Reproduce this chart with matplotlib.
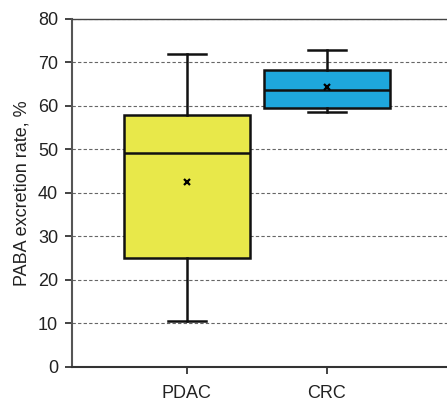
import matplotlib
matplotlib.use('Agg')
import matplotlib.pyplot as plt

plt.rcParams['font.family'] = ['Liberation Sans', 'DejaVu Sans']

groups = ['PDAC', 'CRC']
whisker_low = [10.6, 58.6]
q1 = [25.0, 59.5]
median = [49.2, 63.7]
q3 = [57.9, 68.3]
whisker_high = [72.0, 72.9]
means = [42.5, 64.4]
colors = ['#E8E84A', '#1EA7DD']

stats = []
for i, g in enumerate(groups):
    stats.append({'label': g, 'whislo': whisker_low[i], 'q1': q1[i], 'med': median[i],
                  'q3': q3[i], 'whishi': whisker_high[i], 'mean': means[i], 'fliers': []})

fig = plt.figure(figsize=(4.47, 4.01), dpi=100)
ax = fig.add_axes([0.161, 0.085, 0.839, 0.868])

ax.yaxis.grid(True, linestyle=(0, (3, 2)), color='#666666', linewidth=0.8)
ax.set_axisbelow(True)

bp = ax.bxp(stats, positions=[1, 2], widths=0.9, showmeans=True, patch_artist=True,
            capwidths=0.27,
            boxprops=dict(linewidth=1.8, edgecolor='#111111'),
            medianprops=dict(color='#111111', linewidth=1.8),
            whiskerprops=dict(color='#111111', linewidth=1.8),
            capprops=dict(color='#111111', linewidth=1.8),
            meanprops=dict(marker='x', markeredgecolor='black', markersize=4, markeredgewidth=1.6))
for patch, c in zip(bp['boxes'], colors):
    patch.set_facecolor(c)

ax.set_xlim(0.18, 2.86)
ax.set_ylim(0, 80)
ax.set_yticks(range(0, 81, 10))
ax.tick_params(axis='both', labelsize=13, colors='#222222', length=5, width=1.2)
ax.tick_params(axis='y', pad=5)
ax.tick_params(axis='x', pad=8)
ax.set_ylabel('PABA excretion rate, %', fontsize=13, color='#222222', labelpad=5)

ax.spines['right'].set_visible(False)
ax.spines['top'].set_visible(True)
ax.spines['top'].set_linestyle((0, (3, 1)))
ax.spines['top'].set_color('#444444')
ax.spines['top'].set_linewidth(1.0)
ax.spines['left'].set_color('#555555')
ax.spines['left'].set_linewidth(1.5)
ax.spines['bottom'].set_color('#333333')
ax.spines['bottom'].set_linewidth(1.5)

fig.savefig('out.png', dpi=100)
